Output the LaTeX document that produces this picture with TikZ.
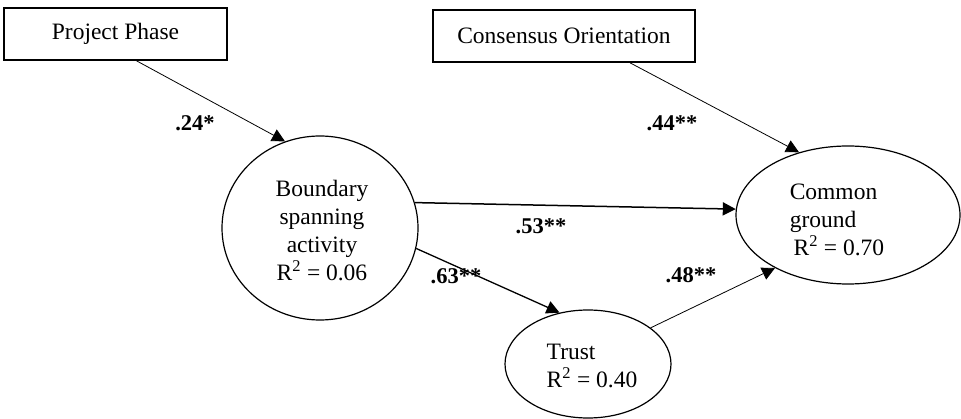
\documentclass[tikz,border=0pt]{standalone}
\usepackage{fontspec}
\setmainfont{Liberation Serif}
\usetikzlibrary{shapes.geometric,arrows.meta}

\tikzset{
  varbox/.style={draw,line width=1.6pt,inner sep=0pt,minimum height=52pt},
  latent/.style={draw,ellipse,line width=1.2pt,inner sep=0pt},
  coef/.style={font=\fontsize{22.5}{26}\selectfont\bfseries},
  path/.style={->,line width=0.8pt}
}

\begin{document}
\begin{tikzpicture}[x=1pt,y=-1pt,>={Triangle[length=13pt,width=13pt]},
  font=\fontsize{23.5}{28}\selectfont]
  \useasboundingbox (0,0) rectangle (961,419);
  % observed variables
  \node[varbox,minimum width=223pt] (phase) at (115.5,34) {Project Phase};
  \node[varbox,minimum width=262pt] (consensus) at (564,36) {Consensus Orientation};
  % latent constructs
  \node[latent,minimum width=196pt,minimum height=184pt] (bsa) at (320,228) {};
  \node[latent,minimum width=224pt,minimum height=138pt] (cg) at (848,215) {};
  \node[latent,minimum width=166pt,minimum height=108pt] (trust) at (588,364) {};
  \node[align=center] (bsatxt) at (322,231)
    {Boundary\\spanning\\activity\\ R\textsuperscript{2} = 0.06};
  \node[align=left] (cgtxt) at (837,220)
    {Common\\ground\\ \,R\textsuperscript{2} = 0.70};
  \node[align=left] (trusttxt) at (592,366)
    {Trust\\R\textsuperscript{2} = 0.40};
  % paths
  \draw[path] ([xshift=21pt]phase.south) -- (bsa.112);
  \draw[path] ([xshift=66pt]consensus.south) -- (cg.128);
  \draw[path,line width=1.5pt] (bsa.15) -- (cg.177);
  \draw[path,line width=1.3pt] (bsa.348) -- (trust.119);
  \draw[path] (trust.30) -- (cg.216);
  % path coefficients
  \node[coef] (c1) at (195,123) {.24*};
  \node[coef] (c2) at (672,123) {.44**};
  \node[coef] (c3) at (541,226) {.53**};
  \node[coef] (c4) at (456,276) {.63**};
  \node[coef] (c5) at (691,275) {.48**};
\end{tikzpicture}
\end{document}
